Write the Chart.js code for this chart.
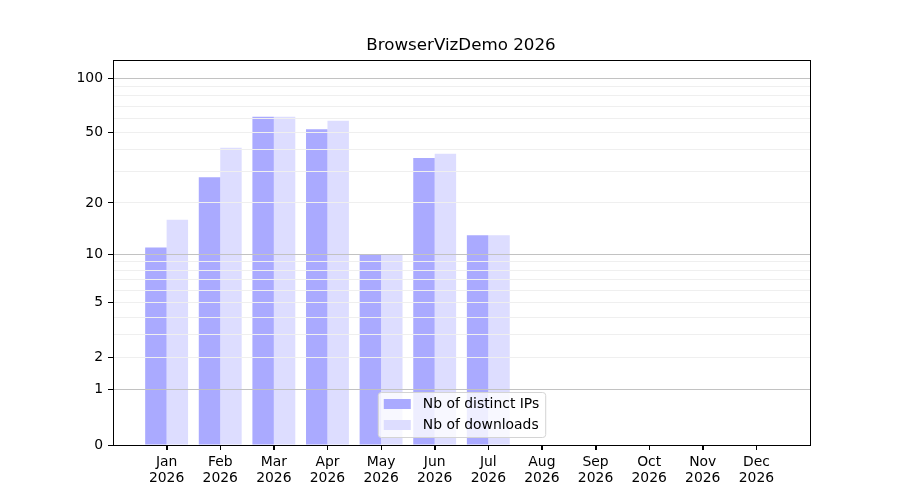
<!DOCTYPE html>
<html>
<head>
<meta charset="utf-8">
<script src="https://cdn.jsdelivr.net/npm/chart.js@4.4.1/dist/chart.umd.min.js"></script>
<style>
  html, body { margin: 0; padding: 0; background: #fff; }
  canvas { display: block; }
</style>
</head>
<body>
<canvas id="chart" width="900" height="500"></canvas>
<script>
const months = ['Jan', 'Feb', 'Mar', 'Apr', 'May', 'Jun', 'Jul', 'Aug', 'Sep', 'Oct', 'Nov', 'Dec'];
const year = '2026';
const distinctIps = [11, 28, 61, 52, 10, 36, 13];
const downloads = [16, 41, 61, 58, 10, 38, 13];
const yTicks = [0, 1, 2, 3, 4, 5, 6, 7, 8, 9, 10, 20, 30, 40, 50, 60, 70, 80, 90, 100];
const yLabeled = [0, 1, 2, 5, 10, 20, 50, 100];
const yMajor = [1, 10, 100];

const FONT = 'DejaVu Sans';

// y axis scaled as log10(1 + v)
class Log1pScale extends Chart.LinearScale {
    configure() {
        super.configure();
        this._tStart = Math.log10(1 + this.min);
        this._tRange = Math.log10(1 + this.max) - this._tStart;
    }
    getPixelForValue(value) {
        return this.getPixelForDecimal((Math.log10(1 + value) - this._tStart) / this._tRange);
    }
    getValueForPixel(pixel) {
        return Math.pow(10, this._tStart + this.getDecimalForPixel(pixel) * this._tRange) - 1;
    }
}
Log1pScale.id = 'log1p';
Log1pScale.defaults = Chart.LinearScale.defaults;
Chart.register(Log1pScale);

// axes box outline plus the month tick marks under the x axis
const frame = {
    id: 'frame',
    afterDraw(chart) {
        const { ctx, chartArea: a } = chart;
        const xs = chart.scales.x;
        ctx.save();
        ctx.strokeStyle = '#000';
        ctx.lineWidth = 1;
        ctx.strokeRect(Math.round(a.left) + 0.5, Math.round(a.top) + 0.5,
            Math.round(a.right - a.left), Math.round(a.bottom - a.top));
        ctx.beginPath();
        xs.ticks.forEach((t, i) => {
            const px = Math.round(xs.getPixelForTick(i)) + 0.5;
            ctx.moveTo(px, Math.round(a.bottom) + 1);
            ctx.lineTo(px, Math.round(a.bottom) + 5);
        });
        ctx.stroke();
        ctx.restore();
    }
};

const boxLegend = {
    id: 'boxLegend',
    afterDraw(chart) {
        const { ctx, chartArea: a } = chart;
        const sets = chart.data.datasets;
        ctx.save();
        ctx.font = '13.9px "' + FONT + '"';
        const textW = Math.max(...sets.map(d => ctx.measureText(d.label).width));
        const w = 6 + 27 + 12 + textW + 6;
        const h = 45;
        const x = (a.left + a.right) / 2 - w / 2;
        const y = a.bottom - 8 - h;
        ctx.beginPath();
        ctx.roundRect(x + 0.5, y + 0.5, w, h, 3);
        ctx.fillStyle = 'rgba(255,255,255,0.8)';
        ctx.fill();
        ctx.strokeStyle = '#d4d4d4';
        ctx.lineWidth = 1;
        ctx.stroke();
        ctx.textBaseline = 'middle';
        sets.forEach((d, i) => {
            const cy = y + 12 + i * 21;
            ctx.fillStyle = d.backgroundColor;
            ctx.fillRect(x + 6, cy - 5, 27, 10);
            ctx.fillStyle = '#000';
            ctx.fillText(d.label, x + 45, cy);
        });
        ctx.restore();
    }
};

new Chart(document.getElementById('chart').getContext('2d'), {
    type: 'bar',
    data: {
        datasets: [
            { label: 'Nb of distinct IPs', data: distinctIps.map((v, i) => ({ x: i, y: v })), backgroundColor: '#aaaaff' },
            { label: 'Nb of downloads', data: downloads.map((v, i) => ({ x: i, y: v })), backgroundColor: '#ddddff' }
        ]
    },
    options: {
        responsive: false,
        animation: false,
        layout: { padding: { left: 22, right: 0, top: 0, bottom: 0 } },
        datasets: { bar: { barPercentage: 1, categoryPercentage: 0.8 } },
        plugins: {
            legend: { display: false },
            tooltip: { enabled: false },
            title: {
                display: true,
                text: 'BrowserVizDemo 2026',
                color: '#000',
                font: { family: FONT, size: 16.7, weight: 'normal', lineHeight: 1 },
                padding: { top: 37, bottom: 6.3 }
            }
        },
        scales: {
            x: {
                type: 'linear',
                min: -1,
                max: 12,
                offset: false,
                afterBuildTicks: s => { s.ticks = months.map((m, i) => ({ value: i })); },
                afterFit: s => { s.height = 55; },
                grid: { offset: false, drawOnChartArea: false, color: '#000', tickColor: '#000', tickLength: 5 },
                border: { color: '#000' },
                ticks: {
                    autoSkip: false,
                    maxRotation: 0,
                    padding: 5,
                    color: '#000',
                    font: { family: FONT, size: 13.9, lineHeight: 1.1 },
                    callback: (v, i) => [months[i], year]
                }
            },
            y: {
                type: 'log1p',
                min: 0,
                max: 125.7,
                afterBuildTicks: s => { s.ticks = yTicks.map(v => ({ value: v })); },
                afterFit: s => { s.width = 91; },
                grid: {
                    z: 1,
                    tickLength: 5,
                    color: c => c.tick.value === 0 ? 'transparent' : (yMajor.includes(c.tick.value) ? '#c2c2c2' : '#efefef'),
                    tickColor: c => yLabeled.includes(c.tick.value) ? '#000' : 'transparent'
                },
                border: { color: '#000', z: 2 },
                ticks: {
                    autoSkip: false,
                    padding: 5,
                    color: '#000',
                    font: { family: FONT, size: 13.9 },
                    callback: v => yLabeled.includes(v) ? String(v) : ''
                }
            },
            // empty right-hand spacer so the axes box ends where the reference does
            spacer: {
                type: 'linear',
                position: 'right',
                afterFit: s => { s.width = 90; },
                grid: { display: false },
                border: { display: false },
                ticks: { display: false }
            }
        }
    },
    plugins: [frame, boxLegend]
});
</script>
</body>
</html>
